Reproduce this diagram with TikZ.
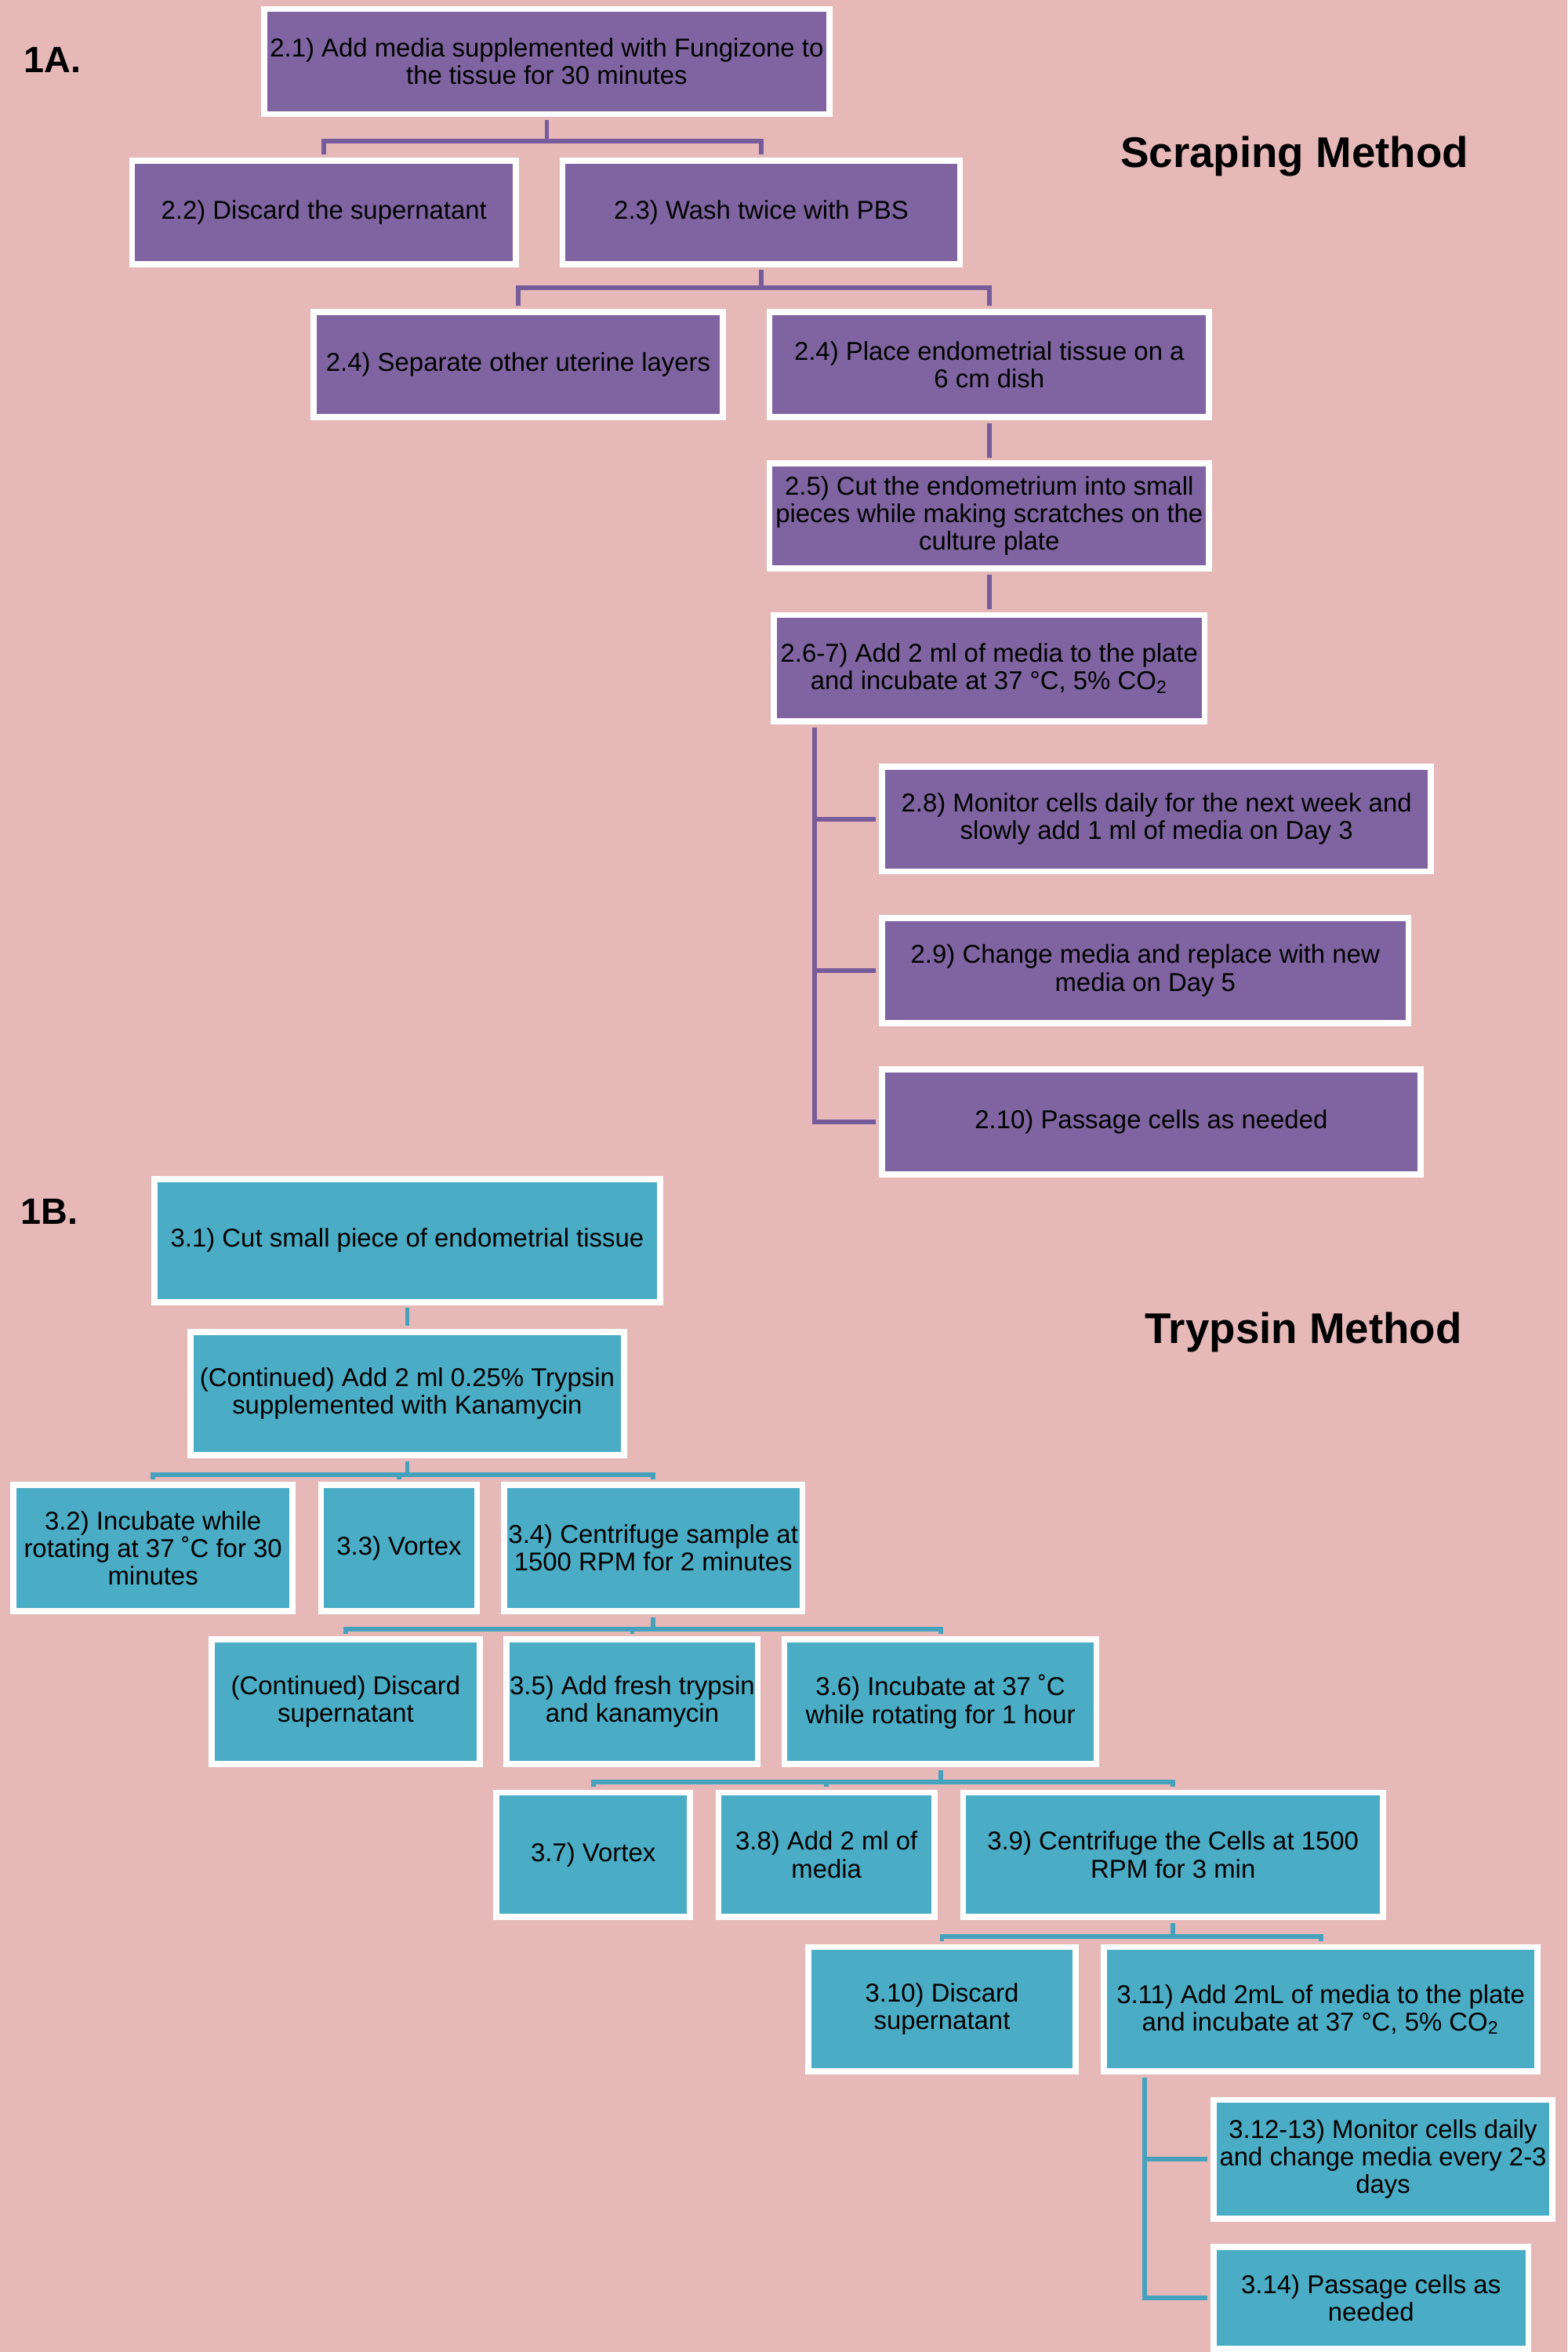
\documentclass[tikz,border=0pt]{standalone}
\usepackage{fontspec}
\setmainfont{Liberation Sans}
\usetikzlibrary{shadows}
\definecolor{backpink}{RGB}{230,185,184}
\definecolor{boxpurple}{RGB}{128,100,162}
\definecolor{boxteal}{RGB}{75,172,198}
\definecolor{linepurple}{RGB}{118,92,154}
\definecolor{lineteal}{RGB}{70,162,188}

\tikzset{
  stepbox/.style={draw=white, line width=2pt, align=center, inner sep=1pt,
    font=\fontsize{8.6}{9.2}\selectfont,
    drop shadow={shadow xshift=0.5pt, shadow yshift=-1pt, opacity=0.25}},
  pbox/.style={stepbox, fill=boxpurple},
  tbox/.style={stepbox, fill=boxteal},
  plink/.style={draw=linepurple, line width=1.5pt, shorten <=1pt, shorten >=1pt},
  tlink/.style={draw=lineteal, line width=1.5pt, shorten <=1pt, shorten >=1pt},
  heading/.style={font=\fontsize{14.3}{16}\selectfont\bfseries},
  panel/.style={font=\fontsize{12.2}{14}\selectfont\bfseries}
}

\begin{document}
\begin{tikzpicture}[x=0.5pt, y=-0.5pt]
\useasboundingbox (0,0) rectangle (1045,1568);
\fill[backpink] (0,0) rectangle (1045,1568);

% scraping method
\node[panel] (p1a) at (35,40) {1A.};
\node[heading] (h1a) at (863,104) {Scraping Method};

\node[pbox, minimum width=188.5pt, minimum height=35pt] (n21) at (364.5,41) {2.1) Add media supplemented with Fungizone to\\the tissue for 30 minutes};
\node[pbox, minimum width=128pt, minimum height=34.5pt] (n22) at (216,141.5) {2.2) Discard the supernatant};
\node[pbox, minimum width=132.5pt, minimum height=34.5pt] (n23) at (507.5,141.5) {2.3) Wash twice with PBS};
\node[pbox, minimum width=136.5pt, minimum height=35pt] (n24a) at (345.5,243) {2.4) Separate other uterine layers};
\node[pbox, minimum width=146.5pt, minimum height=35pt] (n24b) at (659.5,243) {2.4) Place endometrial tissue on a\\6 cm dish};
\node[pbox, minimum width=146.5pt, minimum height=35pt] (n25) at (659.5,344) {2.5) Cut the endometrium into small\\pieces while making scratches on the\\culture plate};
\node[pbox, minimum width=143.5pt, minimum height=35.5pt] (n267) at (659.5,445.5) {2.6-7) Add 2 ml of media to the plate\\and incubate at 37 °C, 5\% CO\textsubscript{2}};
\node[pbox, minimum width=183pt, minimum height=35pt] (n28) at (771,546) {2.8) Monitor cells daily for the next week and\\slowly add 1 ml of media on Day 3};
\node[pbox, minimum width=175.5pt, minimum height=35pt] (n29) at (763.5,647) {2.9) Change media and replace with new\\media on Day 5};
\node[pbox, minimum width=179.5pt, minimum height=35pt] (n210) at (767.5,748) {2.10) Passage cells as needed};

\draw[plink] (n21.south) -- ++(0,16) -| (n22.north);
\draw[plink] (n21.south) -- ++(0,16) -| (n23.north);
\draw[plink] (n23.south) -- ++(0,14) -| (n24a.north);
\draw[plink] (n23.south) -- ++(0,14) -| (n24b.north);
\draw[plink] (n24b.south) -- (n25.north);
\draw[plink] (n25.south) -- (n267.north);
\draw[plink] ([xshift=14.5pt]n267.south west) |- (n28.west);
\draw[plink] ([xshift=14.5pt]n267.south west) |- (n29.west);
\draw[plink] ([xshift=14.5pt]n267.south west) |- (n210.west);

% trypsin method
\node[panel] (p1b) at (33,808) {1B.};
\node[heading] (h1b) at (869,888) {Trypsin Method};

\node[tbox, minimum width=168.5pt, minimum height=41pt] (n31) at (271.5,827) {3.1) Cut small piece of endometrial tissue};
\node[tbox, minimum width=144.5pt, minimum height=41pt] (n31c) at (271.5,929) {(Continued) Add 2 ml 0.25\% Trypsin\\supplemented with Kanamycin};
\node[tbox, minimum width=93pt, minimum height=42pt] (n32) at (102,1032) {3.2) Incubate while\\rotating at 37 ˚C for 30\\minutes};
\node[tbox, minimum width=52pt, minimum height=42pt] (n33) at (266,1032) {3.3) Vortex};
\node[tbox, minimum width=99.5pt, minimum height=42pt] (n34) at (435.5,1032) {3.4) Centrifuge sample at\\1500 RPM for 2 minutes};
\node[tbox, minimum width=89.5pt, minimum height=41.5pt] (n34c) at (230.5,1134.5) {(Continued) Discard\\supernatant};
\node[tbox, minimum width=82.5pt, minimum height=41.5pt] (n35) at (421.5,1134.5) {3.5) Add fresh trypsin\\and kanamycin};
\node[tbox, minimum width=104pt, minimum height=41.5pt] (n36) at (627,1134.5) {3.6) Incubate at 37 ˚C\\while rotating for 1 hour};
\node[tbox, minimum width=64.5pt, minimum height=41.5pt] (n37) at (395.5,1236.5) {3.7) Vortex};
\node[tbox, minimum width=72pt, minimum height=41.5pt] (n38) at (551,1236.5) {3.8) Add 2 ml of\\media};
\node[tbox, minimum width=140pt, minimum height=41.5pt] (n39) at (782,1236.5) {3.9) Centrifuge the Cells at 1500\\RPM for 3 min};
\node[tbox, minimum width=89pt, minimum height=41.5pt] (n310) at (628,1339.5) {3.10) Discard\\supernatant};
\node[tbox, minimum width=144.5pt, minimum height=41.5pt] (n311) at (880.5,1339.5) {3.11) Add 2mL of media to the plate\\and incubate at 37 °C, 5\% CO\textsubscript{2}};
\node[tbox, minimum width=113pt, minimum height=39.5pt] (n312) at (922,1439.5) {3.12-13) Monitor cells daily\\and change media every 2-3\\days};
\node[tbox, minimum width=105pt, minimum height=34pt] (n314) at (914,1532) {3.14) Passage cells as\\needed};

\draw[tlink] (n31.south) -- (n31c.north);
\draw[tlink] (n31c.south) -- ++(0,11) -| (n32.north);
\draw[tlink] (n31c.south) -- ++(0,11) -| (n33.north);
\draw[tlink] (n31c.south) -- ++(0,11) -| (n34.north);
\draw[tlink] (n34.south) -- ++(0,10) -| (n34c.north);
\draw[tlink] (n34.south) -- ++(0,10) -| (n35.north);
\draw[tlink] (n34.south) -- ++(0,10) -| (n36.north);
\draw[tlink] (n36.south) -- ++(0,10) -| (n37.north);
\draw[tlink] (n36.south) -- ++(0,10) -| (n38.north);
\draw[tlink] (n36.south) -- ++(0,10) -| (n39.north);
\draw[tlink] (n39.south) -- ++(0,11) -| (n310.north);
\draw[tlink] (n39.south) -- ++(0,11) -| (n311.north);
\draw[tlink] ([xshift=14.5pt]n311.south west) |- (n312.west);
\draw[tlink] ([xshift=14.5pt]n311.south west) |- (n314.west);
\end{tikzpicture}
\end{document}
